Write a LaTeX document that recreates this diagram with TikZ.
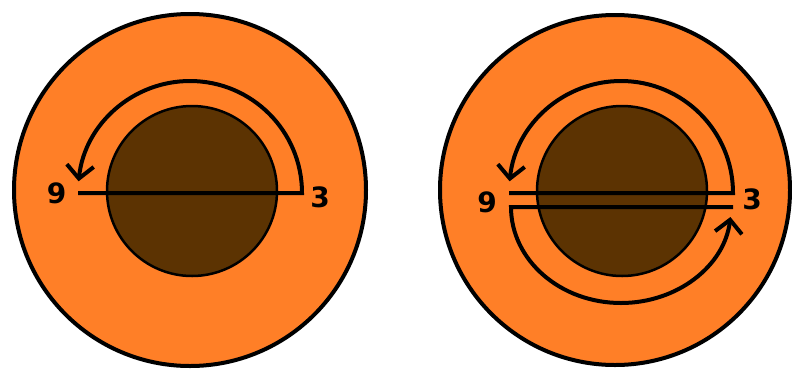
\documentclass[tikz,border=0pt]{standalone}
\usepackage{fontspec}
\setmainfont{DejaVu Sans}
\usetikzlibrary{arrows.meta}
\definecolor{disc}{RGB}{255,127,39}
\definecolor{core}{RGB}{92,51,2}
\tikzset{
  outerdisc/.style={draw=black,fill=disc,line width=4pt},
  innerdisc/.style={draw=black,fill=core,line width=2.5pt},
  flow/.style={draw=black,line width=4pt,-{Straight Barb[length=13pt,width=27pt]}},
  num/.style={font=\bfseries\fontsize{28}{28}\selectfont,inner sep=0pt,text=black}
}
\begin{document}
\begin{tikzpicture}[x=1pt,y=-1pt]
\useasboundingbox (0,0) rectangle (792,370);
\fill[white] (0,0) rectangle (792,370);
% left diagram
\path[outerdisc] (190,190) circle[radius=176];
\path[innerdisc] (192,191) circle[radius=85];
\coordinate (L9) at (78,193);
\coordinate (L3) at (302,193);
\path[flow] (L9) -- (L3) arc[start angle=0,end angle=-174,radius=112];
\node[num] (n9a) at (56.5,193) {9};
\node[num] (n3a) at (320,197) {3};
% right diagram
\path[outerdisc] (615,190) circle[radius=175];
\path[innerdisc] (622,191) circle[radius=85];
\coordinate (R9t) at (509,193);
\coordinate (R3t) at (733,193);
\coordinate (R3b) at (733,207);
\coordinate (R9b) at (511,207);
\path[flow] (R9t) -- (R3t) arc[start angle=0,end angle=-174,radius=112];
\path[flow] (R3b) -- (R9b) arc[start angle=180,end angle=6,x radius=110,y radius=96];
\node[num] (n9b) at (487,202) {9};
\node[num] (n3b) at (752,199) {3};
\end{tikzpicture}
\end{document}
